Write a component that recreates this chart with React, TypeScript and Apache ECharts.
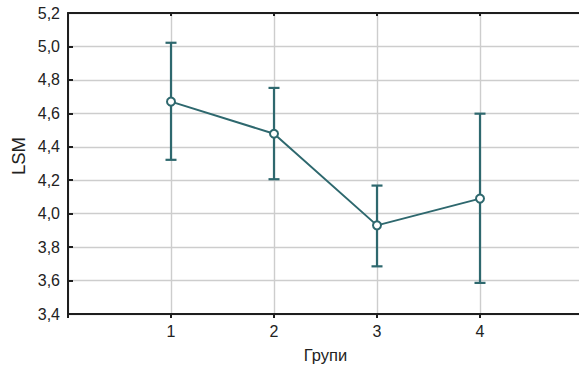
import React, { useEffect, useRef } from "react";
import * as echarts from "echarts";

const groups = [1, 2, 3, 4];
const means = [4.67, 4.478, 3.93, 4.09];
const lowerCI = [4.322, 4.206, 3.685, 3.586];
const upperCI = [5.022, 4.752, 4.168, 4.598];
const xName = "Групи";
const yName = "LSM";

const TEAL = "#2e686e";
const GRID = "#cdcdcd";
const AXIS = "#1e1e1e";
const FONT = "'Liberation Sans', Arial, sans-serif";

export default function App() {
  const ref = useRef<HTMLDivElement>(null);
  useEffect(() => {
    if (!ref.current) return;
    const chart = echarts.init(ref.current, null, { renderer: "svg" });
    const meanData = groups.map((g, i) => [g, means[i]]);
    const errData = groups.map((g, i) => [g, lowerCI[i], upperCI[i]]);
    chart.setOption({
      animation: false,
      grid: { left: 68, right: -4, top: 13, bottom: 52, containLabel: false, outerBoundsMode: "none" },
      graphic: [
        {
          type: "text",
          x: 18,
          y: 156,
          rotation: Math.PI / 2,
          style: {
            text: yName,
            fontFamily: FONT,
            fontSize: 18.5,
            fill: "#222",
            align: "center",
            verticalAlign: "middle",
          },
        },
      ],
      xAxis: [
        {
          type: "value",
          min: 0,
          max: 5,
          interval: 1,
          name: xName,
          nameLocation: "middle",
          nameGap: 32,
          nameTextStyle: { fontFamily: FONT, fontSize: 16.5, color: "#222" },
          axisLine: { show: true, lineStyle: { color: AXIS, width: 2 } },
          axisTick: { show: true, inside: false, length: 4, lineStyle: { color: AXIS, width: 2 } },
          axisLabel: {
            fontFamily: FONT,
            fontSize: 16,
            color: "#222",
            margin: 9,
            formatter: (v: number) => (v >= 1 && v <= 4 ? String(v) : ""),
          },
          splitLine: { show: true, lineStyle: { color: GRID, width: 1.4 } },
        },
        {
          type: "value",
          position: "top",
          min: 0,
          max: 5,
          interval: 1,
          axisLine: { show: true, lineStyle: { color: AXIS, width: 2 } },
          axisTick: { show: true, inside: true, length: 3, lineStyle: { color: AXIS, width: 2 } },
          axisLabel: { show: false },
          splitLine: { show: false },
        },
      ],
      yAxis: {
        type: "value",
        min: 3.4,
        max: 5.2,
        interval: 0.2,
        axisLine: { show: true, lineStyle: { color: AXIS, width: 2 } },
        axisTick: { show: true, inside: true, length: 5, lineStyle: { color: AXIS, width: 2 } },
        axisLabel: {
          fontFamily: FONT,
          fontSize: 16,
          color: "#222",
          margin: 8,
          formatter: (v: number) => v.toFixed(1).replace(".", ","),
        },
        splitLine: { show: true, lineStyle: { color: GRID, width: 1.4 } },
      },
      series: [
        {
          type: "custom",
          z: 3,
          data: errData,
          encode: { x: 0, y: [1, 2] },
          renderItem: (params: any, api: any) => {
            const x = api.value(0);
            const lo = api.coord([x, api.value(1)]);
            const hi = api.coord([x, api.value(2)]);
            const hw = 5.5;
            const style = { stroke: TEAL, lineWidth: 2.2 };
            return {
              type: "group",
              children: [
                { type: "line", shape: { x1: lo[0], y1: lo[1], x2: hi[0], y2: hi[1] }, style },
                { type: "line", shape: { x1: lo[0] - hw, y1: lo[1], x2: lo[0] + hw, y2: lo[1] }, style },
                { type: "line", shape: { x1: hi[0] - hw, y1: hi[1], x2: hi[0] + hw, y2: hi[1] }, style },
              ],
            };
          },
        },
        {
          type: "line",
          z: 5,
          data: meanData,
          symbol: "circle",
          symbolSize: 8,
          lineStyle: { color: TEAL, width: 2 },
          itemStyle: { color: "#ffffff", borderColor: TEAL, borderWidth: 2 },
        },
      ],
    });
    return () => chart.dispose();
  }, []);
  return (
    <div
      ref={ref}
      style={{ position: "fixed", left: 0, top: 0, width: 579, height: 366, background: "#fff" }}
    />
  );
}
